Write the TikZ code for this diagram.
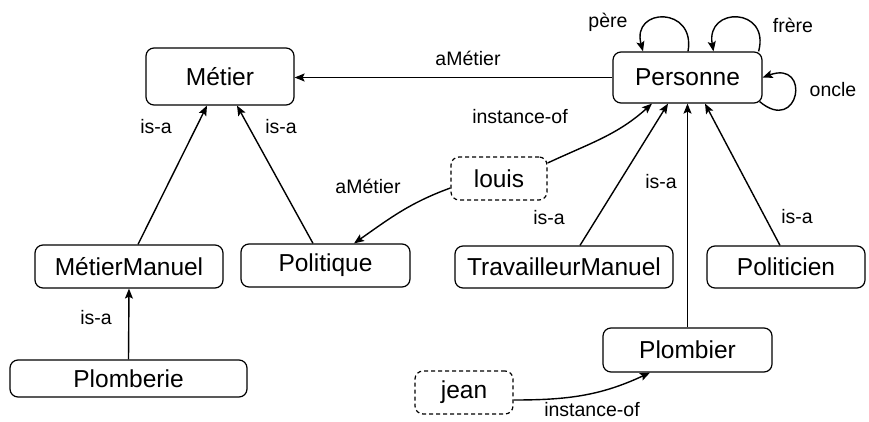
\documentclass[tikz,border=0pt]{standalone}
\usepackage{fontspec}
\setmainfont{Liberation Sans}
\usetikzlibrary{arrows.meta}
\begin{document}
\begin{tikzpicture}[x=1pt,y=1pt,
  box/.style={draw, rounded corners=8pt, line width=1.2pt, inner sep=0pt,
    font=\fontsize{24.5}{28}\selectfont},
  inst/.style={box, dash pattern=on 4pt off 3pt},
  lbl/.style={font=\fontsize{19.5}{22}\selectfont, inner sep=0pt},
  arr/.style={line width=1.4pt, -{Stealth[length=10pt,width=8pt,inset=2pt]}}]
\useasboundingbox (0,0) rectangle (869,421);
% nodes
\node[box, minimum width=148pt, minimum height=57pt] (metier) at (220,344.5) {Métier};
\node[box, minimum width=149pt, minimum height=51pt] (pers) at (687.5,343.5) {Personne};
\node[box, minimum width=188pt, minimum height=43pt] (mm) at (129,154.5) {MétierManuel};
\node[box, minimum width=169pt, minimum height=43pt] (pol) at (325.5,155.5) {Politique};
\node[box, minimum width=218pt, minimum height=42pt] (tm) at (564,154) {TravailleurManuel};
\node[box, minimum width=158pt, minimum height=42pt] (poli) at (786,154) {Politicien};
\node[inst, minimum width=96pt, minimum height=43pt] (louis) at (499,242.5) {louis};
\node[box, minimum width=237pt, minimum height=37pt] (plomberie) at (128.5,42.5) {Plomberie};
\node[box, minimum width=169pt, minimum height=44pt] (plombier) at (687.5,71) {Plombier};
\node[inst, minimum width=98pt, minimum height=43pt] (jean) at (464,28.5) {jean};
% edges
\draw[arr] (pers.west) -- (pers.west -| metier.east);
\draw[arr] ([xshift=9pt]mm.north) -- ([xshift=-13pt]metier.south);
\draw[arr] ([xshift=-12.5pt]pol.north) -- ([xshift=17pt]metier.south);
\draw[arr] (plomberie.north) -- (mm.south);
\draw[arr] ([yshift=-9.5pt]louis.west) to[out=200,in=35] ([xshift=28.5pt]pol.north);
\draw[arr] ([yshift=15.5pt]louis.east) to[out=25,in=222] ([xshift=-35.5pt]pers.south);
\draw[arr] ([xshift=16pt]tm.north) -- ([xshift=-19.5pt]pers.south);
\draw[arr] (plombier.north) -- (pers.south);
\draw[arr] ([xshift=-6pt]poli.north) -- ([xshift=17.5pt]pers.south);
\draw[arr] ([yshift=-7.5pt]jean.east) to[out=0,in=205] ([xshift=-37.5pt]plombier.south);
% self loops
\draw[arr] ([xshift=0.5pt]pers.north) to[out=80,in=105,distance=46pt] ([xshift=-44.5pt]pers.north);
\draw[arr] ([xshift=-4pt]pers.north east) to[out=75,in=100,distance=46pt] ([xshift=26pt]pers.north);
\draw[arr] ([xshift=-3pt,yshift=2pt]pers.south east) to[out=-40,in=20,distance=52pt] (pers.east);
% labels
\node[lbl] (l1) at (468,363) {aMétier};
\node[lbl] (l2) at (368,235) {aMétier};
\node[lbl] (l3) at (520,304) {instance-of};
\node[lbl] (l4) at (156,294) {is-a};
\node[lbl] (l5) at (281,294) {is-a};
\node[lbl] (l6) at (549,203) {is-a};
\node[lbl] (l7) at (661,239) {is-a};
\node[lbl] (l8) at (797,204) {is-a};
\node[lbl] (l9) at (96,103) {is-a};
\node[lbl] (l10) at (592,11) {instance-of};
\node[lbl] (l11) at (608,399) {père};
\node[lbl] (l12) at (793,396) {frère};
\node[lbl] (l13) at (833,331) {oncle};
\end{tikzpicture}
\end{document}
